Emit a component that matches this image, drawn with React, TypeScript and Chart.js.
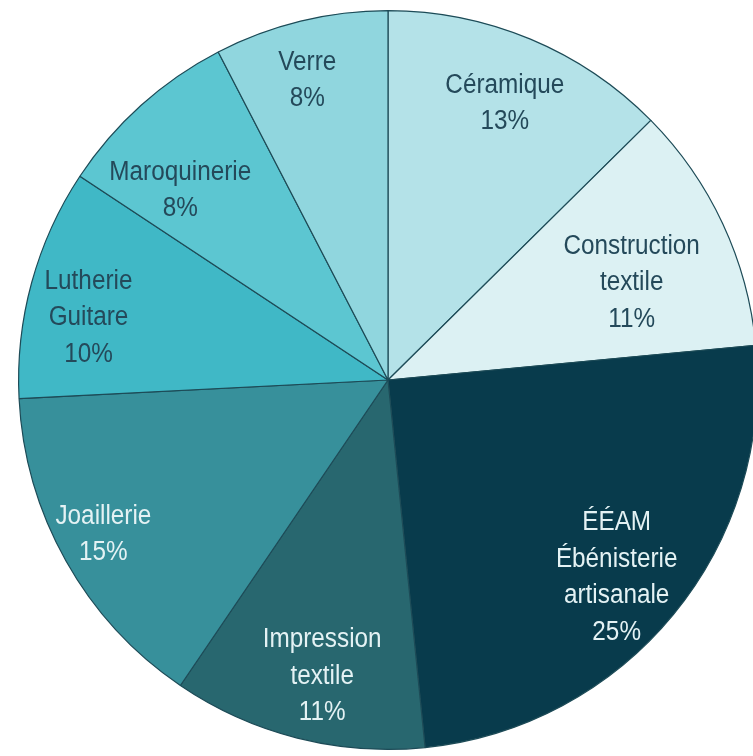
import React, { useEffect, useRef } from "react";
import { Chart, registerables } from "chart.js";

Chart.register(...registerables);

const categories = [
  ["Céramique"],
  ["Construction", "textile"],
  ["ÉÉAM", "Ébénisterie", "artisanale"],
  ["Impression", "textile"],
  ["Joaillerie"],
  ["Lutherie", "Guitare"],
  ["Maroquinerie"],
  ["Verre"],
];
const values = [12.6, 10.9, 24.9, 11.1, 14.7, 10.1, 8.1, 7.6];
const percentLabels = ["13%", "11%", "25%", "11%", "15%", "10%", "8%", "8%"];
const colors = ["#b4e2e8", "#dcf1f3", "#083b4c", "#28676f", "#37909b", "#40b8c6", "#5cc6d1", "#90d6de"];
const textColors = ["#24495a", "#24495a", "#e4f2f4", "#e4f2f4", "#e4f2f4", "#24495a", "#24495a", "#24495a"];

// label placement (style): fraction of radius and angular offset in degrees
const labelRadius = [0.813, 0.71, 0.818, 0.822, 0.877, 0.828, 0.761, 0.84];
const labelAngleOffset = [0.2, 3.3, 1.4, -1.7, 0.8, -3.6, -5.7, -1.4];

const FONT = '"Liberation Sans", Arial, sans-serif';
const FONT_SIZE = 27;
const SCALE_X = 0.9;
const LINE_H = 36.5;

const labelPlugin = {
  id: "sliceLabels",
  afterDatasetsDraw(chart: any) {
    const ctx = chart.ctx;
    const meta = chart.getDatasetMeta(0);
    meta.data.forEach((arc: any, i: number) => {
      const { x, y, startAngle, endAngle, outerRadius } = arc.getProps(
        ["x", "y", "startAngle", "endAngle", "outerRadius"],
        true
      );
      const mid = (startAngle + endAngle) / 2 + (labelAngleOffset[i] * Math.PI) / 180;
      const r = outerRadius * labelRadius[i];
      const cx = x + Math.cos(mid) * r;
      const cy = y + Math.sin(mid) * r;
      const lines = [...categories[i], percentLabels[i]];
      ctx.save();
      ctx.font = `${FONT_SIZE}px ${FONT}`;
      ctx.fillStyle = textColors[i];
      ctx.textAlign = "center";
      ctx.textBaseline = "middle";
      lines.forEach((t, k) => {
        const ty = cy + (k - (lines.length - 1) / 2) * LINE_H;
        ctx.save();
        ctx.translate(cx, ty);
        ctx.scale(SCALE_X, 1);
        ctx.fillText(t, 0, 0);
        ctx.restore();
      });
      ctx.restore();
    });
  },
};

export default function App() {
  const ref = useRef<HTMLCanvasElement>(null);
  useEffect(() => {
    if (!ref.current) return;
    const chart = new Chart(ref.current, {
      type: "pie",
      data: {
        labels: categories.map((c) => c.join(" ")),
        datasets: [
          {
            data: values,
            backgroundColor: colors,
            borderColor: "#1d4b57",
            borderWidth: 1.2,
          },
        ],
      },
      options: {
        responsive: false,
        animation: false,
        layout: { padding: 10 },
        plugins: {
          legend: { display: false },
          tooltip: { enabled: false },
        },
      },
      plugins: [labelPlugin],
    });
    return () => chart.destroy();
  }, []);
  return (
    <div
      style={{
        position: "fixed",
        left: 0,
        top: 0,
        width: 753,
        height: 756,
        overflow: "hidden",
        background: "#ffffff",
      }}
    >
      <canvas ref={ref} width={776} height={760} style={{ display: "block", width: 776, height: 760 }} />
    </div>
  );
}
